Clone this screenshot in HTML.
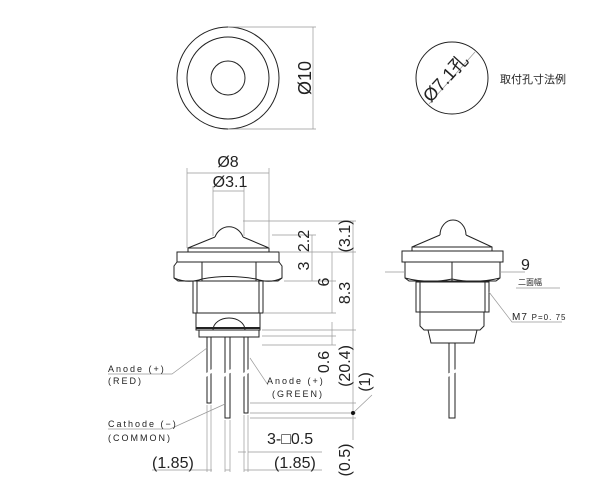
<!DOCTYPE html>
<html><head><meta charset="utf-8"><style>
html,body{margin:0;padding:0;background:#fff;}
svg{display:block}
text{font-family:"Liberation Sans","Noto Sans CJK JP",sans-serif;fill:#222}
</style></head><body>
<svg width="612" height="498" viewBox="0 0 612 498" xmlns="http://www.w3.org/2000/svg">
<g fill="none" stroke="#222" stroke-width="1">
<circle cx="228" cy="78" r="51"/>
<circle cx="228" cy="78" r="41"/>
<circle cx="228" cy="78" r="17"/>
<circle cx="452" cy="78" r="36"/>
<!-- front view -->
<path d="M215,237 A15,16 0 0 1 243,237"/>
<path d="M215,237 L188,248 L188,252 M243,237 L269,248 L269,252 M188,248 H269"/>
<rect x="177" y="252" width="102" height="10"/>
<path d="M177,262 L174,266 V278 L178,281 H278 L282,278 V266 L279,262"/>
<path d="M202,262 V281 M256,262 V281 M174,278 Q188,284 202,279 Q228,274 256,279 Q270,284 282,278"/>
<rect x="193" y="281" width="70" height="32"/>
<path d="M197,281 V313 M259,281 V313"/>
<path d="M196,313 V330 H260 V313"/>
<path d="M196,328 H260" stroke-width="2"/>
<path d="M213,330 A16,12 0 0 1 245,330"/>
<path d="M199,330 V337 H259 V330"/>
<rect x="207" y="337" width="4" height="66"/>
<rect x="225" y="337" width="5" height="81"/>
<rect x="244" y="337" width="4" height="76"/>
<!-- side view -->
<path d="M440,235 A13,15 0 0 1 466,235"/>
<path d="M440,235 L412,247 V251 M466,235 L492,247 V251 M412,247 H492"/>
<rect x="402" y="251" width="101" height="11"/>
<path d="M405,262 V278 L409,281 H496 L500,278 V262 M452,262 V281 M405,278 Q428,284 452,279 Q476,284 500,278"/>
<rect x="416" y="282" width="73" height="30"/>
<path d="M420,282 V312 M485,282 V312"/>
<path d="M420,312 V326 L424,330 H480 L484,326 V312"/>
<path d="M428,330 L431,343 H474 L477,330"/>
<rect x="449" y="343" width="6" height="75"/>
</g>
<g fill="none" stroke="#fff" stroke-width="3">
<path d="M205,376 L213,370 M223,376 L232,370 M242,376 L250,370 M447,376 L457,370"/>
</g>
<g fill="none" stroke="#999" stroke-width="0.7">
<path d="M228,27 H316 M228,129 H316 M313,27 V129"/>
<path d="M429,104 L475,52"/>
<path d="M187,168 V248 M269,168 V248 M187,173 H269"/>
<path d="M213,186 V236 M244,186 V236 M213,191 H244"/>
<path d="M243,221 H356 M272,235 H316 M280,252 H356 M284,281 H336 M264,313 H336 M262,330 H356 M262,336 H336 M262,345 H336 M250,403 H356 M250,413 H356 M250,418 H356"/>
<path d="M312,235 V281 M332,252 V313 M332,322 V345 M353,221 V440 M353,413 L372,395"/>
<path d="M207,405 V472 M211,405 V472 M225,420 V472 M230,420 V472 M244,415 V472 M248,415 V472"/>
<path d="M152,470 H212 M225,470 H230 M244,470 H322 M238,452 H246 M248,452 H322"/>
<path d="M385,272 H405 M500,272 H525 M516,288 H560 M489,292 L512,322 H562"/>
<path d="M108,374 H172 L207,348"/>
<path d="M108,429 H170 L225,404"/>
<path d="M268,385 L250,358"/>
</g>
<circle cx="353" cy="413" r="2" fill="#111"/>
<g font-size="16">
<text transform="translate(311,78) rotate(-90)" text-anchor="middle" font-size="18">Ø10</text>
<text transform="translate(450,82) rotate(-48)" text-anchor="middle" font-size="18">Ø7.1孔</text>
<text x="500" y="83" font-size="11">取付孔寸法例</text>
<text x="228" y="167" text-anchor="middle">Ø8</text>
<text x="230" y="187" text-anchor="middle">Ø3.1</text>
<text transform="translate(350,236) rotate(-90)" text-anchor="middle">(3.1)</text>
<text transform="translate(309,241) rotate(-90)" text-anchor="middle">2.2</text>
<text transform="translate(309,266) rotate(-90)" text-anchor="middle">3</text>
<text transform="translate(329,282) rotate(-90)" text-anchor="middle">6</text>
<text transform="translate(350,293) rotate(-90)" text-anchor="middle">8.3</text>
<text transform="translate(329,362) rotate(-90)" text-anchor="middle">0.6</text>
<text transform="translate(350,366) rotate(-90)" text-anchor="middle">(20.4)</text>
<text transform="translate(370,382) rotate(-90)" text-anchor="middle">(1)</text>
<text transform="translate(350,460) rotate(-90)" text-anchor="middle">(0.5)</text>
<text x="267" y="444">3-□0.5</text>
<text x="152" y="468">(1.85)</text>
<text x="274" y="468">(1.85)</text>
<text x="521" y="270">9</text>
<text x="518" y="285" font-size="8">二面幅</text>
</g>
<g font-size="9" letter-spacing="2">
<text x="108" y="372">Anode (+)</text>
<text x="108" y="384">(RED)</text>
<text x="267" y="384">Anode (+)</text>
<text x="272" y="397">(GREEN)</text>
<text x="108" y="427">Cathode (−)</text>
<text x="108" y="441">(COMMON)</text>
<text x="512" y="320" font-size="10" letter-spacing="1">M7 <tspan font-size="8">P=0. 75</tspan></text>
</g>
</svg>
</body></html>
